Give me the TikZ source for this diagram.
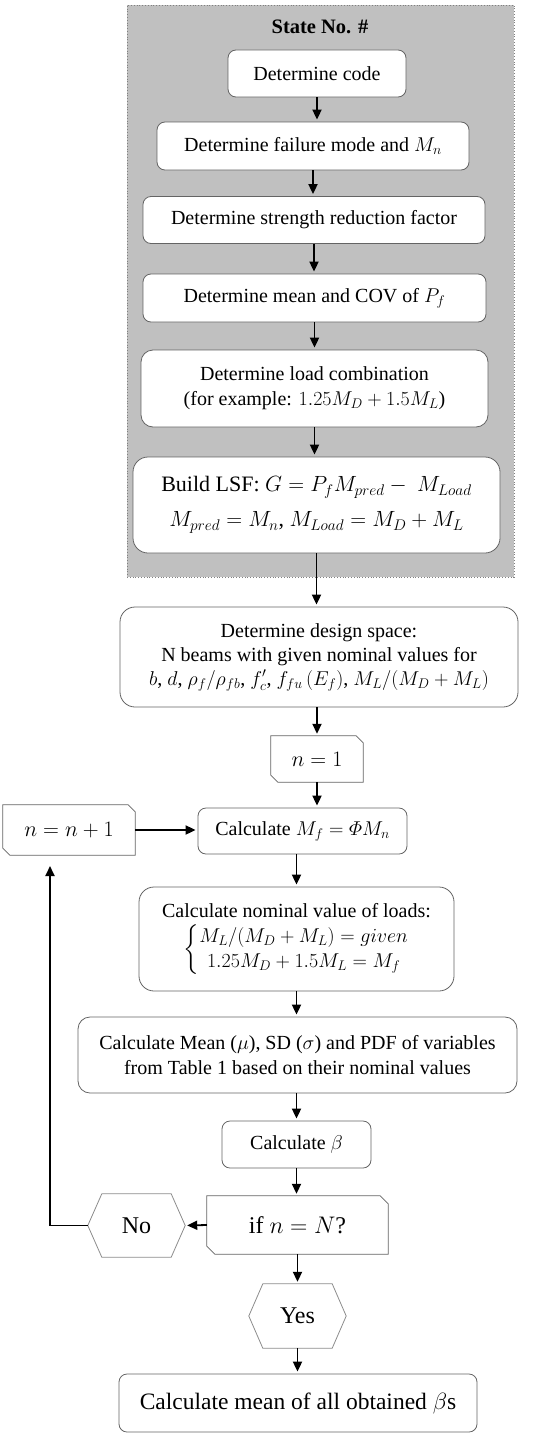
\RequirePackage{fix-cm}
\documentclass[tikz,border=0pt]{standalone}
\usepackage{amsmath}
\usepackage{fontspec}
\setmainfont{Liberation Serif}
\usetikzlibrary{arrows.meta,calc}
\definecolor{bggray}{RGB}{192,192,192}
\definecolor{boxgray}{RGB}{100,100,100}
\definecolor{hexgray}{RGB}{140,140,140}
\tikzset{
  box/.style={draw=boxgray, line width=0.8pt, rounded corners=8pt, fill=white, align=center, inner sep=0pt, font=\fontsize{20}{25}\selectfont},
  bigbox/.style={box, rounded corners=15pt},
  plain/.style={inner sep=0pt, align=center, font=\fontsize{20}{25}\selectfont},
  edgeline/.style={draw=boxgray, line width=0.8pt, fill=white},
  hexline/.style={draw=hexgray, line width=0.8pt, fill=white},
  frame/.style={draw=gray, dotted, line width=0.8pt, fill=bggray, inner sep=0pt},
  arr/.style={line width=1.8pt, -{Triangle[length=10pt,width=9pt]}, shorten >=2pt},
}
\newcommand\chamfshape[2]{\path[edgeline] (#1.north west) -- ($(#1.north east)+(-#2,0)$) -- ($(#1.north east)+(0,-#2)$) -- (#1.south east) -- ($(#1.south west)+(#2,0)$) -- ($(#1.south west)+(0,#2)$) -- cycle;}
\newcommand\hexshape[2]{\path[hexline] (#1.west) -- ($(#1.north west)+(#2,0)$) -- ($(#1.north east)+(-#2,0)$) -- (#1.east) -- ($(#1.south east)+(-#2,0)$) -- ($(#1.south west)+(#2,0)$) -- cycle;}
\begin{document}
\begin{tikzpicture}[x=1pt,y=-1pt]
\useasboundingbox (0,0) rectangle (550,1437);
\node[frame, minimum width=387pt, minimum height=572pt] (frame) at (320.5,291) {};
\node[plain, font=\fontsize{20.5}{25}\selectfont\bfseries] (title) at (320,27) {State No. \#};
\node[box, minimum width=178pt, minimum height=47pt] (b1) at (317,73.5) {Determine code};
\node[box, minimum width=312pt, minimum height=48pt] (b2) at (313,146) {Determine failure mode and $M_n$};
\node[box, minimum width=342pt, minimum height=47pt] (b3) at (314,220) {Determine strength reduction factor};
\node[box, minimum width=343pt, minimum height=48pt] (b4) at (314.5,298) {Determine mean and COV of $P_f$};
\node[box, rounded corners=12pt, minimum width=347pt, minimum height=77pt] (b5) at (314.5,388.5) {Determine load combination\\(for example: $1.25M_D+1.5M_L$)};
\node[bigbox, minimum width=367pt, minimum height=96pt, font=\fontsize{22}{35}\selectfont] (b6) at (316.5,505) {Build LSF: $G=P_fM_{pred}-\ M_{Load}$\\$M_{pred}=M_n$, $M_{Load}=M_D+M_L$};
\node[bigbox, minimum width=398pt, minimum height=100pt, font=\fontsize{20}{24}\selectfont] (design) at (319,657) {Determine design space:\\N beams with given nominal values for\\$b$, $d$, $\rho_f/\rho_{fb}$, $f_c'$, $f_{fu}\,(E_f)$, $M_L/(M_D+M_L)$};
% n = 1
\node[plain, minimum width=92pt, minimum height=46pt] (n1) at (317,759) {};
\chamfshape{n1}{7pt}
\node[plain, font=\fontsize{22}{26}\selectfont] (n1t) at (n1) {$n=1$};
% n = n+1
\node[plain, minimum width=132pt, minimum height=50pt] (nn1) at (69,830) {};
\chamfshape{nn1}{7pt}
\node[plain, font=\fontsize{22}{26}\selectfont] (nn1t) at (nn1) {$n=n+1$};
\node[box, minimum width=209pt, minimum height=46pt] (Mf) at (302.5,831) {Calculate $M_f=\varPhi M_n$};
\node[bigbox, minimum width=315pt, minimum height=104pt] (loads) at (296.5,939) {Calculate nominal value of loads:\\[6pt]$\left\{\begin{array}{@{}c@{}} M_L/(M_D+M_L)=given\\ 1.25M_D+1.5M_L=M_f\end{array}\right.$};
\node[box, rounded corners=12pt, minimum width=439pt, minimum height=76pt] (meanSD) at (297.5,1055) {Calculate Mean ($\mu$), SD ($\sigma$) and PDF of variables\\from Table 1 based on their nominal values};
\node[box, minimum width=149pt, minimum height=47pt] (beta) at (296.5,1144.5) {Calculate $\beta$};
% if n = N
\node[plain, minimum width=181pt, minimum height=58pt] (ifN) at (297.5,1225) {};
\chamfshape{ifN}{8pt}
\node[plain, font=\fontsize{24}{28}\selectfont] (ifNt) at (ifN) {if $n=N$?};
% No
\node[plain, minimum width=97pt, minimum height=63pt] (No) at (136.5,1225.5) {};
\hexshape{No}{14pt}
\node[plain, font=\fontsize{24}{28}\selectfont] (Not) at (No) {No};
% Yes
\node[plain, minimum width=97pt, minimum height=64pt] (Yes) at (297.5,1316) {};
\hexshape{Yes}{14pt}
\node[plain, font=\fontsize{24}{28}\selectfont] (Yest) at (Yes) {Yes};
\node[box, minimum width=358pt, minimum height=58pt, font=\fontsize{23.5}{28}\selectfont] (final) at (298,1403) {Calculate mean of all obtained $\beta$s};
% connectors
\draw[arr] (b1.south) -- (b1.south |- b2.north);
\draw[arr] (b2.south) -- (b2.south |- b3.north);
\draw[arr] (b3.south) -- (b3.south |- b4.north);
\draw[arr] (b4.south) -- (b4.south |- b5.north);
\draw[arr] (b5.south) -- (b5.south |- b6.north);
\draw[arr] (b6.south) -- (b6.south |- design.north);
\draw[arr] (n1.north |- design.south) -- (n1.north);
\draw[arr] (n1.south) -- (n1.south |- Mf.north);
\draw[arr] (loads.north |- Mf.south) -- (loads.north);
\draw[arr] (loads.south) -- (loads.south |- meanSD.north);
\draw[arr] (beta.north |- meanSD.south) -- (beta.north);
\draw[arr] (beta.south) -- (beta.south |- ifN.north);
\draw[arr] (Yes.north |- ifN.south) -- (Yes.north);
\draw[arr] (Yes.south) -- (Yes.south |- final.north);
\draw[arr] (ifN.west) -- (No.east);
\coordinate (loopend) at (50,864);
\draw[arr] (No.west) -| (loopend);
\draw[arr] (nn1.east) -- (nn1.east -| Mf.west);
\end{tikzpicture}
\end{document}
